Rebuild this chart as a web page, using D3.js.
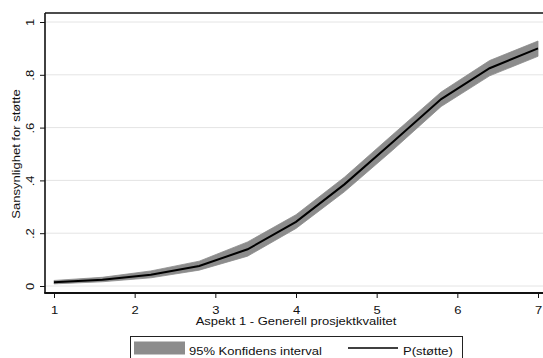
<!DOCTYPE html>
<html>
<head>
<meta charset="utf-8">
<script src="https://cdn.jsdelivr.net/npm/d3@7"></script>
<style>
  html, body { margin: 0; padding: 0; background: #fff; }
  svg { display: block; font-family: "Liberation Sans", Arial, sans-serif; }
</style>
</head>
<body>
<svg id="chart" width="543" height="358"></svg>
<script>
// Predicted probability of support by project quality, with 95% CI
const quality = [1, 1.6, 2.2, 2.8, 3.4, 4.0, 4.6, 5.2, 5.8, 6.4, 7.0];
const pSupport = [0.014, 0.024, 0.043, 0.076, 0.139, 0.243, 0.385, 0.545, 0.708, 0.825, 0.900];
const ciLower = [0.008, 0.016, 0.031, 0.060, 0.113, 0.218, 0.357, 0.515, 0.680, 0.796, 0.870];
const ciUpper = [0.021, 0.033, 0.057, 0.094, 0.167, 0.270, 0.412, 0.574, 0.735, 0.854, 0.928];
const xTicks = [1, 2, 3, 4, 5, 6, 7];
const yTicks = [0, 0.2, 0.4, 0.6, 0.8, 1];
const yTickLabels = ["0", ".2", ".4", ".6", ".8", "1"];

const svg = d3.select("#chart");
const frame = { left: 45, top: 13, bottom: 293, right: 548 };
const FONT = 13;
const SQUASH = "scale(1,0.8)"; // wide-set glyphs

const x = d3.scaleLinear().domain([1, 7]).range([54, 538]);
const y = d3.scaleLinear().domain([0, 1]).range([286, 22]);

// gridlines
svg.append("g").selectAll("line").data(yTicks).join("line")
  .attr("x1", frame.left).attr("x2", frame.right)
  .attr("y1", d => y(d)).attr("y2", d => y(d))
  .attr("stroke", "#e4e4e4").attr("stroke-width", 1);

// confidence band
const rows = quality.map((q, i) => ({ q, lo: ciLower[i], hi: ciUpper[i], p: pSupport[i] }));
svg.append("path").datum(rows)
  .attr("d", d3.area().x(d => x(d.q)).y0(d => y(d.lo)).y1(d => y(d.hi)))
  .attr("fill", "#8c8c8c").attr("stroke", "#8c8c8c").attr("stroke-width", 0.8);

// predicted probability line
svg.append("path").datum(rows)
  .attr("d", d3.line().x(d => x(d.q)).y(d => y(d.p)))
  .attr("fill", "none").attr("stroke", "#000").attr("stroke-width", 2);

// plot frame
svg.append("line").attr("x1", frame.left).attr("x2", frame.right)
  .attr("y1", frame.top).attr("y2", frame.top).attr("stroke", "#111").attr("stroke-width", 1.5);
svg.append("line").attr("x1", frame.left).attr("x2", frame.left)
  .attr("y1", frame.top).attr("y2", frame.bottom).attr("stroke", "#111").attr("stroke-width", 1.6);

// x axis
const xAxis = svg.append("g").attr("transform", `translate(0,${frame.bottom})`)
  .call(d3.axisBottom(x).tickValues(xTicks).tickFormat(d3.format("d")).tickSize(5));
xAxis.select(".domain").remove();
xAxis.selectAll(".tick line").attr("stroke", "#111").attr("stroke-width", 1);
xAxis.selectAll(".tick text")
  .attr("font-size", FONT).attr("fill", "#111")
  .attr("font-family", "Liberation Sans, Arial, sans-serif")
  .attr("y", null).attr("dy", null)
  .attr("transform", `translate(0,20.5) ${SQUASH}`);
svg.append("line").attr("x1", frame.left - 0.8).attr("x2", frame.right)
  .attr("y1", frame.bottom).attr("y2", frame.bottom).attr("stroke", "#111").attr("stroke-width", 2);

// y axis
const yAxis = svg.append("g").attr("transform", `translate(${frame.left},0)`)
  .call(d3.axisLeft(y).tickValues(yTicks).tickFormat((d, i) => yTickLabels[i]).tickSize(5));
yAxis.select(".domain").remove();
yAxis.selectAll(".tick line").attr("stroke", "#111").attr("stroke-width", 1);
yAxis.selectAll(".tick text")
  .attr("font-size", FONT).attr("fill", "#111")
  .attr("font-family", "Liberation Sans, Arial, sans-serif")
  .attr("text-anchor", "middle").attr("dy", null).attr("x", null)
  .attr("transform", `translate(-11.5,0) rotate(-90) ${SQUASH}`);

// axis titles
svg.append("text")
  .attr("transform", `translate(${(x(1) + x(7)) / 2},325) ${SQUASH}`)
  .attr("text-anchor", "middle").attr("font-size", FONT).attr("fill", "#111")
  .text("Aspekt 1 - Generell prosjektkvalitet");
svg.append("text")
  .attr("transform", `translate(19.5,${(y(0) + y(1)) / 2}) rotate(-90) ${SQUASH}`)
  .attr("text-anchor", "middle").attr("font-size", FONT).attr("fill", "#111")
  .text("Sansynlighet for støtte");

// legend
const legend = svg.append("g");
legend.append("rect").attr("x", 130.5).attr("y", 336.5).attr("width", 332).attr("height", 30)
  .attr("fill", "#fff").attr("stroke", "#222").attr("stroke-width", 1);
legend.append("rect").attr("x", 134).attr("y", 341.5).attr("width", 51).attr("height", 13)
  .attr("fill", "#8c8c8c");
legend.append("text").attr("transform", `translate(189,355) ${SQUASH}`)
  .attr("font-size", FONT).attr("fill", "#111")
  .text("95% Konfidens interval");
legend.append("line").attr("x1", 348).attr("x2", 398).attr("y1", 348).attr("y2", 348)
  .attr("stroke", "#000").attr("stroke-width", 1.6);
legend.append("text").attr("transform", `translate(403,355) ${SQUASH}`)
  .attr("font-size", FONT).attr("fill", "#111")
  .text("P(støtte)");
</script>
</body>
</html>
